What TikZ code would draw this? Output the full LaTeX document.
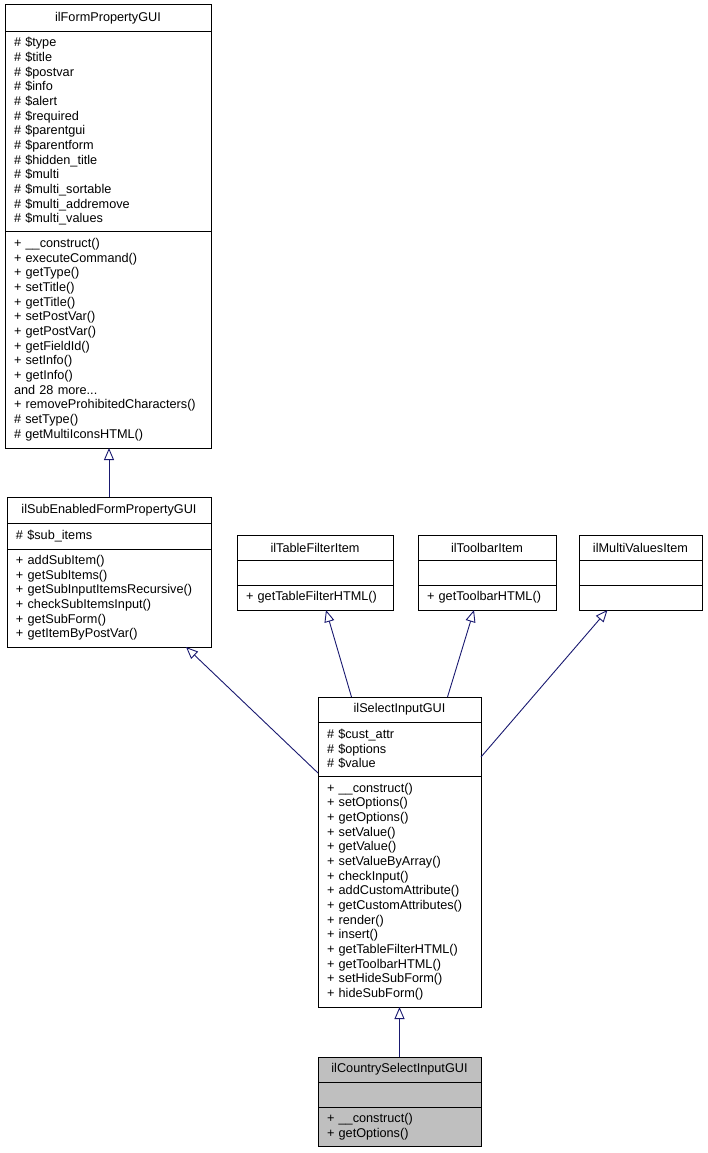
\documentclass[tikz,border=0pt]{standalone}
\usepackage{fontspec}
\setmainfont{Liberation Sans}
\usepackage{tikz}
\usetikzlibrary{arrows.meta}
\usetikzlibrary{calc}
\usetikzlibrary{positioning}
\hyphenpenalty=10000
\exhyphenpenalty=10000
\definecolor{edgeblue}{HTML}{191970}
\definecolor{nodegray}{HTML}{BFBFBF}
\tikzstyle{classname} = [draw, fill=white, rectangle, outer sep=0pt, inner sep=0pt,
    align=center, anchor=north west]
\tikzstyle{classpart} = [draw, fill=white, rectangle, outer sep=0pt, inner xsep=9pt,
    inner ysep=0pt, align=left]
\tikzstyle{inherit} = [draw=edgeblue, line width=0.9pt,
    -{Triangle[open, length=12pt, width=10pt]}]

\begin{document}
\begin{tikzpicture}[x=1pt, y=-1pt, line width=1pt,
    font=\fontsize{12.7}{14.67}\selectfont]
    \useasboundingbox (0,0) rectangle (707,1153);

    % We start by placing the classes
    \node [classname, minimum width=206pt, minimum height=27pt] (formprop) at (5,5) {ilFormPropertyGUI};
    \node [classpart, text width=188pt, minimum height=199pt, below=0pt of formprop] (formpropAttr)
        {\# \$type\\\# \$title\\\# \$postvar\\\# \$info\\\# \$alert\\\# \$required\\\# \$parentgui\\
         \# \$parentform\\\# \$hidden\_title\\\# \$multi\\\# \$multi\_sortable\\\# \$multi\_addremove\\
         \# \$multi\_values};
    \node [classpart, text width=188pt, minimum height=217pt, below=0pt of formpropAttr] (formpropMeth)
        {+ \_\_construct()\\+ executeCommand()\\+ getType()\\+ setTitle()\\+ getTitle()\\+ setPostVar()\\
         + getPostVar()\\+ getFieldId()\\+ setInfo()\\+ getInfo()\\and 28 more...\\
         + removeProhibitedCharacters()\\\# setType()\\\# getMultiIconsHTML()};

    \node [classname, minimum width=204pt, minimum height=26pt] (subenabled) at (7,497) {ilSubEnabledFormPropertyGUI};
    \node [classpart, text width=186pt, minimum height=26pt, below=0pt of subenabled] (subenabledAttr)
        {\# \$sub\_items};
    \node [classpart, text width=186pt, minimum height=98pt, below=0pt of subenabledAttr] (subenabledMeth)
        {+ addSubItem()\\+ getSubItems()\\+ getSubInputItemsRecursive()\\+ checkSubItemsInput()\\
         + getSubForm()\\+ getItemByPostVar()};

    \node [classname, minimum width=156pt, minimum height=25pt] (tablefilter) at (237,535) {ilTableFilterItem};
    \node [classpart, text width=138pt, minimum height=25pt, below=0pt of tablefilter] (tablefilterAttr) {};
    \node [classpart, text width=138pt, minimum height=25pt, below=0pt of tablefilterAttr] (tablefilterMeth)
        {+ getTableFilterHTML()};

    \node [classname, minimum width=138pt, minimum height=25pt] (toolbar) at (418,535) {ilToolbarItem};
    \node [classpart, text width=120pt, minimum height=25pt, below=0pt of toolbar] (toolbarAttr) {};
    \node [classpart, text width=120pt, minimum height=25pt, below=0pt of toolbarAttr] (toolbarMeth)
        {+ getToolbarHTML()};

    \node [classname, minimum width=123pt, minimum height=25pt] (multivalues) at (579,535) {ilMultiValuesItem};
    \node [classpart, text width=105pt, minimum height=25pt, below=0pt of multivalues] (multivaluesAttr) {};
    \node [classpart, text width=105pt, minimum height=25pt, below=0pt of multivaluesAttr] (multivaluesMeth) {};

    \node [classname, minimum width=163pt, minimum height=25pt] (select) at (318,697) {ilSelectInputGUI};
    \node [classpart, text width=145pt, minimum height=54pt, below=0pt of select] (selectAttr)
        {\# \$cust\_attr\\\# \$options\\\# \$value};
    \node [classpart, text width=145pt, minimum height=231pt, below=0pt of selectAttr] (selectMeth)
        {+ \_\_construct()\\+ setOptions()\\+ getOptions()\\+ setValue()\\+ getValue()\\
         + setValueByArray()\\+ checkInput()\\+ addCustomAttribute()\\+ getCustomAttributes()\\
         + render()\\+ insert()\\+ getTableFilterHTML()\\+ getToolbarHTML()\\+ setHideSubForm()\\
         + hideSubForm()};

    \node [classname, fill=nodegray, minimum width=163pt, minimum height=25pt] (country) at (318,1057) {ilCountrySelectInputGUI};
    \node [classpart, fill=nodegray, text width=145pt, minimum height=25pt, below=0pt of country] (countryAttr) {};
    \node [classpart, fill=nodegray, text width=145pt, minimum height=39pt, below=0pt of countryAttr] (countryMeth)
        {+ \_\_construct()\\+ getOptions()};

    % Once the classes are placed, the inheritance edges follow
    \draw [inherit] (subenabled.north) -- (subenabled.north |- formpropMeth.south);
    \draw [inherit] ([yshift=3pt]selectAttr.south west) -- ([xshift=-25pt]subenabledMeth.south east);
    \draw [inherit] ([xshift=-48pt]select.north) -- ([xshift=11pt]tablefilterMeth.south);
    \draw [inherit] ([xshift=48pt]select.north) -- ([xshift=-13pt]toolbarMeth.south);
    \draw [inherit] ([yshift=-8pt]selectAttr.east) -- ([xshift=-33pt]multivaluesMeth.south);
    \draw [inherit] (country.north) -- (selectMeth.south);
\end{tikzpicture}
\end{document}
